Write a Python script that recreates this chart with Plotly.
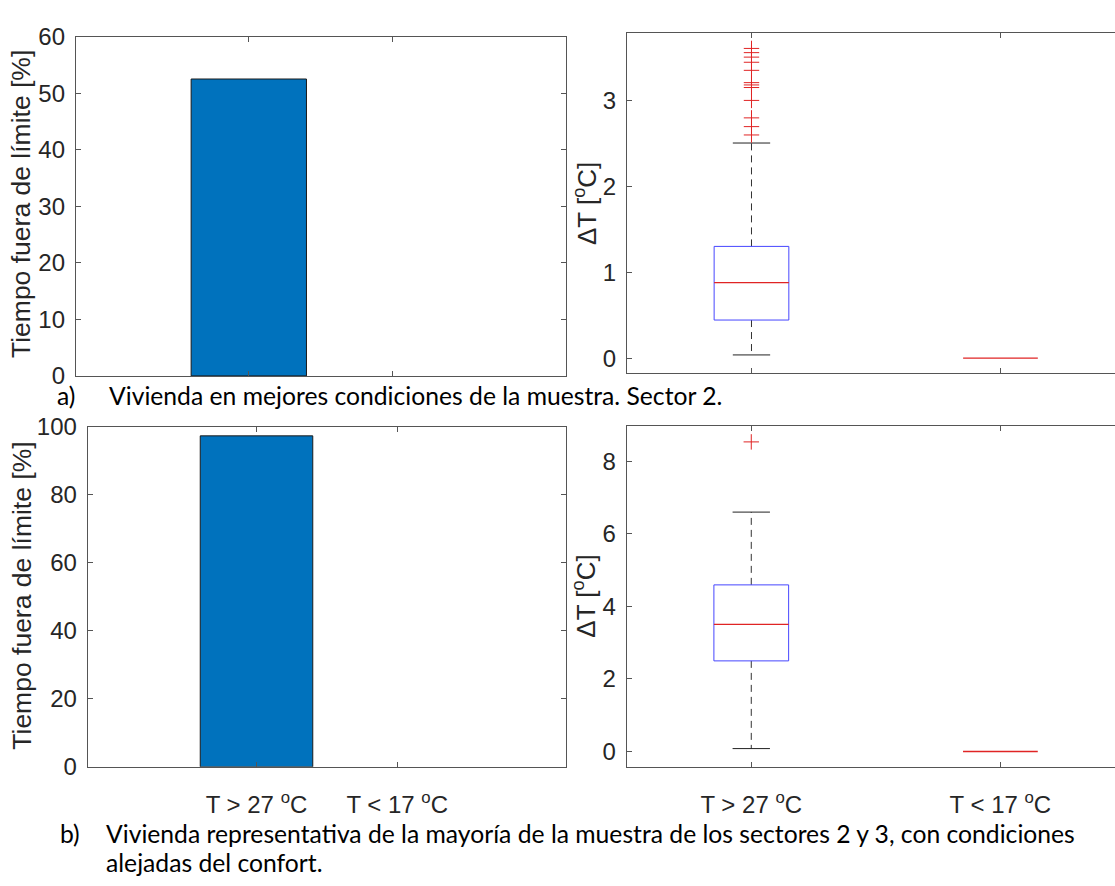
import plotly.graph_objects as go

W, H = 1115, 886

# ---- data -------------------------------------------------------------
cat_pos = [1, 2]
cat_labels = ["T &gt; 27 <sup>o</sup>C", "T &lt; 17 <sup>o</sup>C"]

# share of time outside the comfort limit [%]
pct_a = [52.5, 0.0]
pct_b = [97.4, 0.0]

# delta-T box statistics per category [degC]
dt_a_q1 = [0.444, 0.0]
dt_a_med = [0.880, 0.0]
dt_a_q3 = [1.301, 0.0]
dt_a_lo = [0.038, 0.0]
dt_a_hi = [2.504, 0.0]
dt_a_out = [2.598, 2.695, 2.797, 3.000, 3.150, 3.180, 3.207, 3.350, 3.444, 3.504, 3.556, 3.605]

dt_b_q1 = [2.498, 0.0]
dt_b_med = [3.506, 0.0]
dt_b_q3 = [4.594, 0.0]
dt_b_lo = [0.080, 0.0]
dt_b_hi = [6.601, 0.0]
dt_b_out = [8.537]

ytitle_left = "Tiempo fuera de límite [%]"
ytitle_right = "ΔT [<sup>o</sup>C]"
cap_a = ("a)", "Vivienda en mejores condiciones de la muestra. Sector 2.")
cap_b = ("b)", "Vivienda representativa de la mayoría de la muestra de los sectores 2 y 3, con condiciones",
         "alejadas del confort.")

# ---- style ------------------------------------------------------------
AX_COL = "#555555"
TXT_COL = "#262626"
AX_FONT = "Arial, Liberation Sans, sans-serif"
CAP_FONT = "Lato, Open Sans, sans-serif"
BAR_COL = "#0072BD"
BOX_COL = "#4646ff"
MED_COL = "#e02424"
WHISK_COL = "#333333"
BOX_HALF = 0.15
CAP_HALF = 0.075


def px_dom_x(a, b):
    return [a / W, min(b / W, 1.0)]


def px_dom_y(top, bottom):
    return [1 - bottom / H, 1 - top / H]


fig = go.Figure()


def add_bars(xa, ya, values):
    fig.add_trace(go.Bar(
        x=cat_pos, y=values, width=0.8,
        marker=dict(color=BAR_COL,
                    line=dict(color="#1a1a1a", width=[1 if v > 0 else 0 for v in values])),
        xaxis=xa, yaxis=ya, showlegend=False, hoverinfo="skip"))


def add_boxes(xa, ya, q1, med, q3, lo, hi, out):
    for i, x in enumerate(cat_pos):
        if hi[i] > lo[i]:
            # whiskers
            fig.add_trace(go.Scatter(
                x=[x, x, None, x, x], y=[q3[i], hi[i], None, q1[i], lo[i]],
                mode="lines", line=dict(color=WHISK_COL, width=1, dash="7px,5px"),
                xaxis=xa, yaxis=ya, showlegend=False, hoverinfo="skip"))
            # whisker caps
            fig.add_trace(go.Scatter(
                x=[x - CAP_HALF, x + CAP_HALF, None, x - CAP_HALF, x + CAP_HALF],
                y=[hi[i], hi[i], None, lo[i], lo[i]],
                mode="lines", line=dict(color="#222222", width=1),
                xaxis=xa, yaxis=ya, showlegend=False, hoverinfo="skip"))
        if q3[i] > q1[i]:
            # box
            fig.add_trace(go.Scatter(
                x=[x - BOX_HALF, x + BOX_HALF, x + BOX_HALF, x - BOX_HALF, x - BOX_HALF],
                y=[q1[i], q1[i], q3[i], q3[i], q1[i]],
                mode="lines", line=dict(color=BOX_COL, width=1),
                xaxis=xa, yaxis=ya, showlegend=False, hoverinfo="skip"))
        # median
        fig.add_trace(go.Scatter(
            x=[x - BOX_HALF, x + BOX_HALF], y=[med[i], med[i]],
            mode="lines", line=dict(color=MED_COL, width=1.3),
            xaxis=xa, yaxis=ya, showlegend=False, hoverinfo="skip"))
    # outliers (first category)
    fig.add_trace(go.Scatter(
        x=[cat_pos[0]] * len(out), y=out, mode="markers",
        marker=dict(symbol="cross-thin", size=11, line=dict(color=MED_COL, width=1)),
        xaxis=xa, yaxis=ya, showlegend=False, hoverinfo="skip"))


add_bars("x", "y", pct_a)
add_boxes("x2", "y2", dt_a_q1, dt_a_med, dt_a_q3, dt_a_lo, dt_a_hi, dt_a_out)
add_bars("x3", "y3", pct_b)
add_boxes("x4", "y4", dt_b_q1, dt_b_med, dt_b_q3, dt_b_lo, dt_b_hi, dt_b_out)

tick_font = dict(family=AX_FONT, size=24, color=TXT_COL)


def xaxis(dom, rng, anchor, labels):
    return dict(domain=dom, range=rng, anchor=anchor, tickmode="array",
                tickvals=cat_pos, ticktext=labels, ticks="inside", ticklen=5,
                tickcolor=AX_COL, tickwidth=1, showline=True, linecolor=AX_COL,
                linewidth=1, mirror="ticks", showgrid=False, zeroline=False,
                tickfont=tick_font, ticklabelstandoff=16, fixedrange=True)


def yaxis(dom, rng, anchor, dtick, mirror):
    return dict(domain=dom, range=rng, anchor=anchor, dtick=dtick, tick0=0,
                ticks="inside", ticklen=5, tickcolor=AX_COL, tickwidth=1,
                showline=True, linecolor=AX_COL, linewidth=1, mirror=mirror,
                showgrid=False, zeroline=False, tickfont=tick_font,
                ticklabelstandoff=5, fixedrange=True)


blank = ["", ""]
fig.update_layout(
    width=W, height=H, autosize=False,
    margin=dict(l=0, r=0, t=0, b=0),
    paper_bgcolor="white", plot_bgcolor="white",
    showlegend=False,
    xaxis=xaxis(px_dom_x(75.8, 566), [-0.2, 3.2], "y", blank),
    yaxis=yaxis(px_dom_y(23.3, 373.3), [0, 60], "x", 10, "ticks"),
    xaxis2=xaxis(px_dom_x(627, W), [0.5, 2.46], "y2", blank),
    yaxis2=yaxis(px_dom_y(20, 370.7), [-0.177, 3.78], "x2", 1, False),
    xaxis3=xaxis(px_dom_x(87.7, 566), [-0.2, 3.2], "y3", cat_labels),
    yaxis3=yaxis(px_dom_y(426, 776.5), [0, 100], "x3", 20, "ticks"),
    xaxis4=xaxis(px_dom_x(626.7, W), [0.5, 2.46], "y4", cat_labels),
    yaxis4=yaxis(px_dom_y(425, 777), [-0.437, 8.974], "x4", 2, False),
)

ann = []
for xc, yc, txt, size in [(21, 196, ytitle_left, 26.5), (22, 600, ytitle_left, 26.5),
                          (585, 196, ytitle_right, 26), (585, 601, ytitle_right, 26)]:
    ann.append(dict(x=xc / W, y=1 - yc / H, xref="paper", yref="paper",
                    text=txt, textangle=-90, showarrow=False,
                    xanchor="center", yanchor="middle",
                    font=dict(family=AX_FONT, size=size, color=TXT_COL)))

cap_font = dict(family=CAP_FONT, size=24.7, color="black")
for xl, yc, txt in [(55, 393, cap_a[0]), (107, 393, cap_a[1]),
                    (58, 845, cap_b[0]), (104, 845, cap_b[1]),
                    (104, 875, cap_b[2])]:
    ann.append(dict(x=xl / W, y=1 - yc / H, xref="paper", yref="paper",
                    text=txt, showarrow=False, xanchor="left", yanchor="middle",
                    font=cap_font))
fig.update_layout(annotations=ann)

fig.write_html("out.html", config={"displayModeBar": False})
